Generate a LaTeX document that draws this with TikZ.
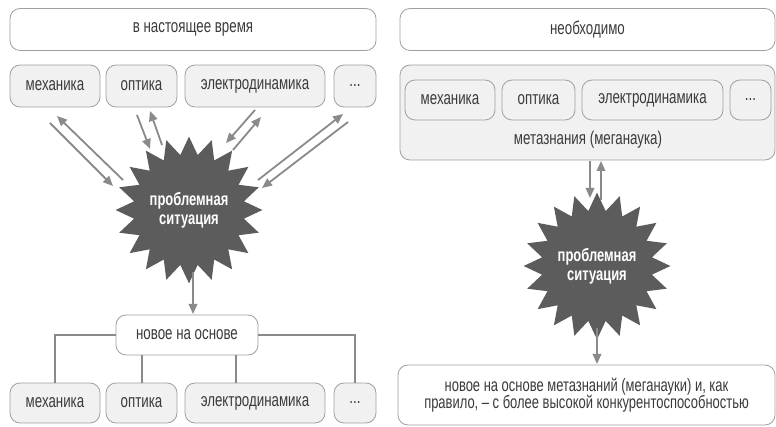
\documentclass[tikz,border=0pt]{standalone}
\usepackage{fontspec}
\setmainfont[FakeStretch=0.72]{Liberation Sans}
\usetikzlibrary{shapes.geometric,arrows.meta,calc}
\definecolor{bordergray}{HTML}{A0A0A0}
\definecolor{boxgray}{HTML}{F1F1F1}
\definecolor{arrgray}{HTML}{8A8A8A}
\definecolor{stargray}{HTML}{5C5C5C}
\definecolor{txtgray}{HTML}{3A3A3A}
\tikzset{
  box/.style={draw=bordergray, line width=0.8pt, rounded corners=10pt, fill=boxgray, inner sep=0pt, text=txtgray, font=\fontsize{18.5}{20}\selectfont},
  wbox/.style={box, fill=white},
  arr/.style={draw=arrgray, line width=1.8pt, -{Triangle[length=10pt,width=8.5pt]}},
  treeline/.style={draw=arrgray, line width=2pt},
  burst/.style={star, star points=20, star point ratio=1.32, fill=stargray, draw=none, inner sep=0pt, text=white, align=center, font=\bfseries\fontsize{18}{19}\selectfont},
}
\begin{document}
\begin{tikzpicture}[x=1pt,y=-1pt]
\useasboundingbox (0,0) rectangle (776,427);
% ---------- left panel ----------
\node[wbox, minimum width=366pt, minimum height=42pt] (lt) at (193,29.5) {в настоящее время};
\node[box, minimum width=90pt, minimum height=42pt] (m1) at (55,86) {механика};
\node[box, minimum width=71pt, minimum height=42pt] (o1) at (141.5,86) {оптика};
\node[box, minimum width=140pt, minimum height=42pt] (e1) at (255,86) {электродинамика};
\node[box, minimum width=42pt, minimum height=42pt] (d1) at (355,86) {...};
\node[burst, minimum size=127pt] (s1) at (189,210) {проблемная\\ситуация};
\node[wbox, minimum width=142pt, minimum height=40pt] (n1) at (187,335) {новое на основе};
\node[box, minimum width=90pt, minimum height=40pt] (m3) at (55,403) {механика};
\node[box, minimum width=71pt, minimum height=40pt] (o3) at (141.5,403) {оптика};
\node[box, minimum width=140pt, minimum height=40pt] (e3) at (255,403) {электродинамика};
\node[box, minimum width=42pt, minimum height=40pt] (d3) at (355,403) {...};
% arrow end points
\coordinate (a1s) at (50,123);  \coordinate (a1e) at (113,186);
\coordinate (a2s) at (123,180); \coordinate (a2e) at (57,116);
\coordinate (b1s) at (137,115); \coordinate (b1e) at (150,149);
\coordinate (b2s) at (162,145); \coordinate (b2e) at (150,111);
\coordinate (c1s) at (255,110); \coordinate (c1e) at (226,143);
\coordinate (c2s) at (233,150); \coordinate (c2e) at (261,117);
\coordinate (d1s) at (258,180); \coordinate (d1e) at (343,114);
\coordinate (d2s) at (348,122); \coordinate (d2e) at (262,188);
\draw[arr] (a1s) -- (a1e);
\draw[arr] (a2s) -- (a2e);
\draw[arr] (b1s) -- (b1e);
\draw[arr] (b2s) -- (b2e);
\draw[arr] (c1s) -- (c1e);
\draw[arr] (c2s) -- (c2e);
\draw[arr] (d1s) -- (d1e);
\draw[arr] (d2s) -- (d2e);
\draw[arr] (193,272) -- (193,314);
% tree
\draw[treeline] (n1.west) -| (m3.north);
\draw[treeline] (n1.east) -| (d3.north);
\draw[treeline] (n1.south -| o3.north) -- (o3.north);
\draw[treeline] (236,355.5) -- (236,382.5);
% ---------- right panel ----------
\node[wbox, minimum width=375pt, minimum height=42pt] (rt) at (587.5,29.5) {необходимо};
\node[box, minimum width=375pt, minimum height=95pt] (big) at (587.5,112.5) {};
\node[box, minimum width=90pt, minimum height=40pt] (m2) at (450,100) {механика};
\node[box, minimum width=73pt, minimum height=40pt] (o2) at (538.5,100) {оптика};
\node[box, minimum width=141pt, minimum height=40pt] (e2) at (652.5,100) {электродинамика};
\node[box, minimum width=41pt, minimum height=40pt] (d2) at (750.5,100) {...};
\node[text=txtgray, font=\fontsize{18.5}{20}\selectfont] (meta) at (588,140) {метазнания (меганаука)};
\node[burst, minimum size=126pt] (s2) at (597,266) {проблемная\\ситуация};
\node[wbox, minimum width=377pt, minimum height=60pt, align=center, font=\fontsize{18}{17.5}\selectfont] (n2) at (586.5,395) {новое на основе метазнаний (меганауки) и, как\\правило, – с более высокой конкурентоспособностью};
\draw[arr] (590,161) -- (590,198);
\draw[arr] (601,200) -- (601,161);
\draw[arr] (597,328) -- (597,364);
\end{tikzpicture}
\end{document}
